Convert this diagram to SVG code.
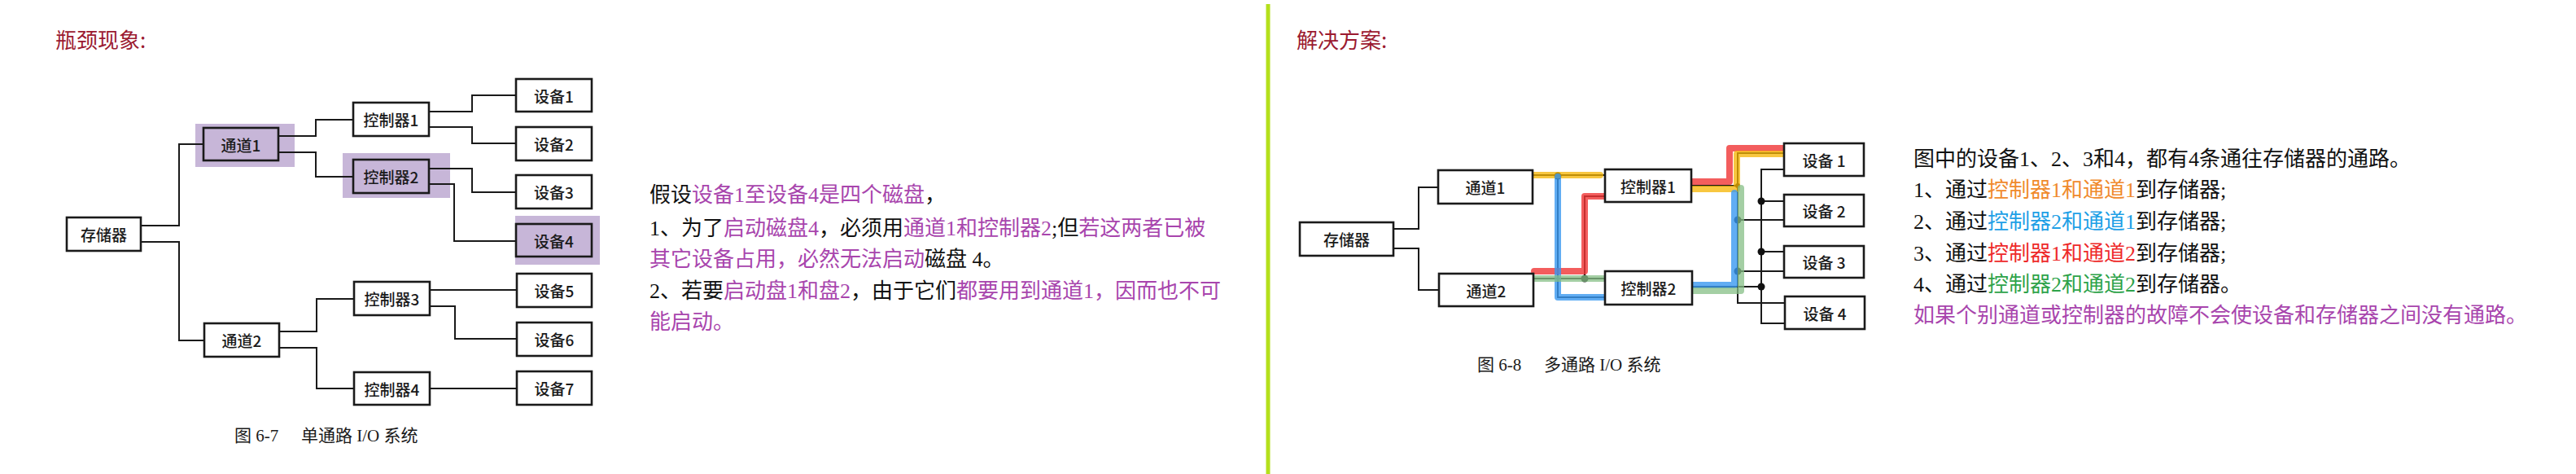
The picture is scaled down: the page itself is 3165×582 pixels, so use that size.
<svg xmlns="http://www.w3.org/2000/svg" width="3165" height="582" viewBox="0 0 3165 582">
<style>
.bg{fill:#ffffff}
.box{fill:#ffffff;stroke:#1a1a1a;stroke-width:2.6}
.hbox{fill:#c7b6d8;stroke:#1a1a1a;stroke-width:2.6}
.hl{fill:#c7b6d8}
.lbl{font-family:"Noto Sans CJK SC","Liberation Serif",sans-serif;font-size:19px;font-weight:500;fill:#1a1a1a;text-anchor:middle;dominant-baseline:central}
.wire{fill:none;stroke:#1a1a1a;stroke-width:2}
.dot{fill:#111}
.title{font-family:"Noto Sans CJK SC",sans-serif;font-size:26px;fill:#9b1a30}
.cap{font-family:"Liberation Serif","Noto Sans CJK SC",serif;font-size:21px;fill:#1a1a1a}
.txt{font-family:"Liberation Serif","Noto Sans CJK SC",serif;font-size:26px;fill:#111}
.p{fill:#a845ad}
.o{fill:#f08a2c}
.b{fill:#1ea0e6}
.r{fill:#ee2a2a}
.g{fill:#2ea34a}
.ov{fill:none;stroke-width:8;stroke-linecap:round;stroke-linejoin:round}
.oy{stroke:#f6b400;opacity:0.75}
.or{stroke:#f03434;opacity:0.8}
.ob{stroke:#3a98f0;opacity:0.8}
.og{stroke:#86bf86;opacity:0.75}
</style>
<rect class="bg" x="0" y="0" width="3165" height="582"/>
<line x1="1558" y1="5" x2="1558" y2="582" stroke="#b4e01c" stroke-width="5"/>

<text class="title" x="68" y="59">瓶颈现象:</text>
<text class="title" x="1593" y="59">解决方案:</text>

<!-- left highlights -->
<g id="highlights-left">
<rect class="hl" x="240" y="152" width="122" height="53"/>
<rect class="hl" x="421" y="188" width="132" height="55"/>
<rect class="hl" x="633" y="265" width="104" height="60"/>
</g>

<!-- left connectors -->
<g id="connectors-left">
<path class="wire" d="M173,277 H220 V177 H250"/>
<path class="wire" d="M173,297 H220 V418 H251"/>
<path class="wire" d="M342,167 H388 V147 H434"/>
<path class="wire" d="M342,187 H388 V217 H434"/>
<path class="wire" d="M527,137 H580 V117 H634"/>
<path class="wire" d="M527,156 H580 V176 H634"/>
<path class="wire" d="M527,207 H580 V236 H634"/>
<path class="wire" d="M527,226 H558 V296 H634"/>
<path class="wire" d="M343,407 H389 V367 H435"/>
<path class="wire" d="M343,427 H389 V477 H435"/>
<path class="wire" d="M528,356 H635"/>
<path class="wire" d="M528,376 H559 V416 H635"/>
<path class="wire" d="M528,477 H635"/>
</g>

<g id="l-storage"><rect class="box" x="82" y="267" width="91" height="41"/><text class="lbl" x="127.5" y="287.5">存储器</text></g>
<g id="l-ch1"><rect class="hbox" x="250" y="157" width="92" height="40"/><text class="lbl" x="296" y="177">通道1</text></g>
<g id="l-ch2"><rect class="box" x="251" y="397" width="92" height="41"/><text class="lbl" x="297" y="417.5">通道2</text></g>
<g id="l-c1"><rect class="box" x="434" y="126" width="93" height="41"/><text class="lbl" x="480.5" y="146.5">控制器1</text></g>
<g id="l-c2"><rect class="hbox" x="434" y="196" width="93" height="41"/><text class="lbl" x="480.5" y="216.5">控制器2</text></g>
<g id="l-c3"><rect class="box" x="435" y="346" width="93" height="41"/><text class="lbl" x="481.5" y="366.5">控制器3</text></g>
<g id="l-c4"><rect class="box" x="435" y="457" width="93" height="40"/><text class="lbl" x="481.5" y="477">控制器4</text></g>
<g id="l-d1"><rect class="box" x="634" y="97" width="93" height="40"/><text class="lbl" x="680.5" y="117">设备1</text></g>
<g id="l-d2"><rect class="box" x="634" y="156" width="93" height="41"/><text class="lbl" x="680.5" y="176.5">设备2</text></g>
<g id="l-d3"><rect class="box" x="634" y="215" width="93" height="41"/><text class="lbl" x="680.5" y="235.5">设备3</text></g>
<g id="l-d4"><rect class="hbox" x="634" y="275" width="93" height="40"/><text class="lbl" x="680.5" y="295">设备4</text></g>
<g id="l-d5"><rect class="box" x="635" y="336" width="92" height="41"/><text class="lbl" x="681" y="356.5">设备5</text></g>
<g id="l-d6"><rect class="box" x="635" y="396" width="92" height="41"/><text class="lbl" x="681" y="416.5">设备6</text></g>
<g id="l-d7"><rect class="box" x="635" y="456" width="92" height="41"/><text class="lbl" x="681" y="476.5">设备7</text></g>

<text class="cap" x="288" y="542">图 6-7</text>
<text class="cap" x="370" y="542">单通路 I/O 系统</text>

<!-- left explanation -->
<g id="left-text">
<text class="txt" x="798" y="248">假设<tspan class="p">设备1至设备4是四个磁盘</tspan>，</text>
<text class="txt" x="798" y="289">1、为了<tspan class="p">启动磁盘4</tspan>，必须用<tspan class="p">通道1和控制器2</tspan>;但<tspan class="p">若这两者已被</tspan></text>
<text class="txt" x="798" y="327"><tspan class="p">其它设备占用，必然无法启动</tspan>磁盘 4。</text>
<text class="txt" x="798" y="366">2、若要<tspan class="p">启动盘1和盘2</tspan>，由于它们<tspan class="p">都要用到通道1，因而也不可</tspan></text>
<text class="txt" x="798" y="404"><tspan class="p">能启动。</tspan></text>
</g>

<!-- right connectors -->
<g id="connectors-right">
<path class="wire" d="M1712,281 H1743 V230 H1767"/>
<path class="wire" d="M1712,305 H1743 V356 H1768"/>
<path class="wire" d="M1883,215 H1972"/>
<path class="wire" d="M1914,215 V365 H1972"/>
<path class="wire" d="M1884,342 H1972"/>
<path class="wire" d="M1947,342 V241 H1972"/>
<path class="wire" d="M2078,228 H2135 V188 H2192"/>
<path class="wire" d="M2135,228 V372 H2193"/>
<path class="wire" d="M2135,270 H2192"/>
<path class="wire" d="M2135,333 H2192"/>
<path class="wire" d="M2079,352 H2164"/>
<path class="wire" d="M2192,208 H2164 V397 H2193"/>
<path class="wire" d="M2164,247 H2192"/>
<path class="wire" d="M2164,309 H2192"/>
<circle class="dot" cx="1914" cy="216" r="4.5"/>
<circle class="dot" cx="1947" cy="342" r="4.5"/>
<circle class="dot" cx="2135" cy="228" r="3"/>
<circle class="dot" cx="2135" cy="270" r="4.5"/>
<circle class="dot" cx="2135" cy="333" r="4.5"/>
<circle class="dot" cx="2164" cy="247" r="4.5"/>
<circle class="dot" cx="2164" cy="309" r="4.5"/>
<circle class="dot" cx="2164" cy="352" r="4.5"/>
<!-- highlighted paths -->
<path class="ov or" d="M1885,333 H1947 V241 H1974"/>
<path class="ov or" d="M2075,223 H2125 V182 H2190"/>
<path class="ov oy" d="M1885,215 H1966"/>
<path class="ov oy" d="M2077,232 H2134 V189 H2195"/>
<path class="ov ob" d="M1914,217 V365 H1970"/>
<path class="ov ob" d="M2077,350 H2131 V237"/>
<path class="ov og" d="M1877,342 H1970"/>
<path class="ov og" d="M2077,357 H2139 V231"/>
</g>

<g id="r-storage"><rect class="box" x="1597" y="273" width="115" height="41"/><text class="lbl" x="1654.5" y="293.5">存储器</text></g>
<g id="r-ch1"><rect class="box" x="1767" y="209" width="116" height="41"/><text class="lbl" x="1825" y="229.5">通道1</text></g>
<g id="r-ch2"><rect class="box" x="1768" y="336" width="116" height="40"/><text class="lbl" x="1826" y="356">通道2</text></g>
<g id="r-c1"><rect class="box" x="1972" y="208" width="106" height="40"/><text class="lbl" x="2025" y="228">控制器1</text></g>
<g id="r-c2"><rect class="box" x="1972" y="333" width="107" height="41"/><text class="lbl" x="2025.5" y="353.5">控制器2</text></g>
<g id="r-d1"><rect class="box" x="2192" y="176" width="98" height="40"/><text class="lbl" x="2241" y="196">设备 1</text></g>
<g id="r-d2"><rect class="box" x="2192" y="239" width="98" height="39"/><text class="lbl" x="2241" y="258.5">设备 2</text></g>
<g id="r-d3"><rect class="box" x="2192" y="302" width="98" height="39"/><text class="lbl" x="2241" y="321.5">设备 3</text></g>
<g id="r-d4"><rect class="box" x="2193" y="364" width="98" height="40"/><text class="lbl" x="2242" y="384">设备 4</text></g>

<text class="cap" x="1815" y="455">图 6-8</text>
<text class="cap" x="1897" y="455">多通路 I/O 系统</text>

<!-- right explanation -->
<g id="right-text">
<text class="txt" x="2351" y="204">图中的设备1、2、3和4，都有4条通往存储器的通路。</text>
<text class="txt" x="2351" y="242">1、通过<tspan class="o">控制器1和通道1</tspan>到存储器;</text>
<text class="txt" x="2351" y="281">2、通过<tspan class="b">控制器2和通道1</tspan>到存储器;</text>
<text class="txt" x="2351" y="320">3、通过<tspan class="r">控制器1和通道2</tspan>到存储器;</text>
<text class="txt" x="2351" y="358">4、通过<tspan class="g">控制器2和通道2</tspan>到存储器。</text>
<text class="txt p" x="2351" y="396">如果个别通道或控制器的故障不会使设备和存储器之间没有通路。</text>
</g>
</svg>
